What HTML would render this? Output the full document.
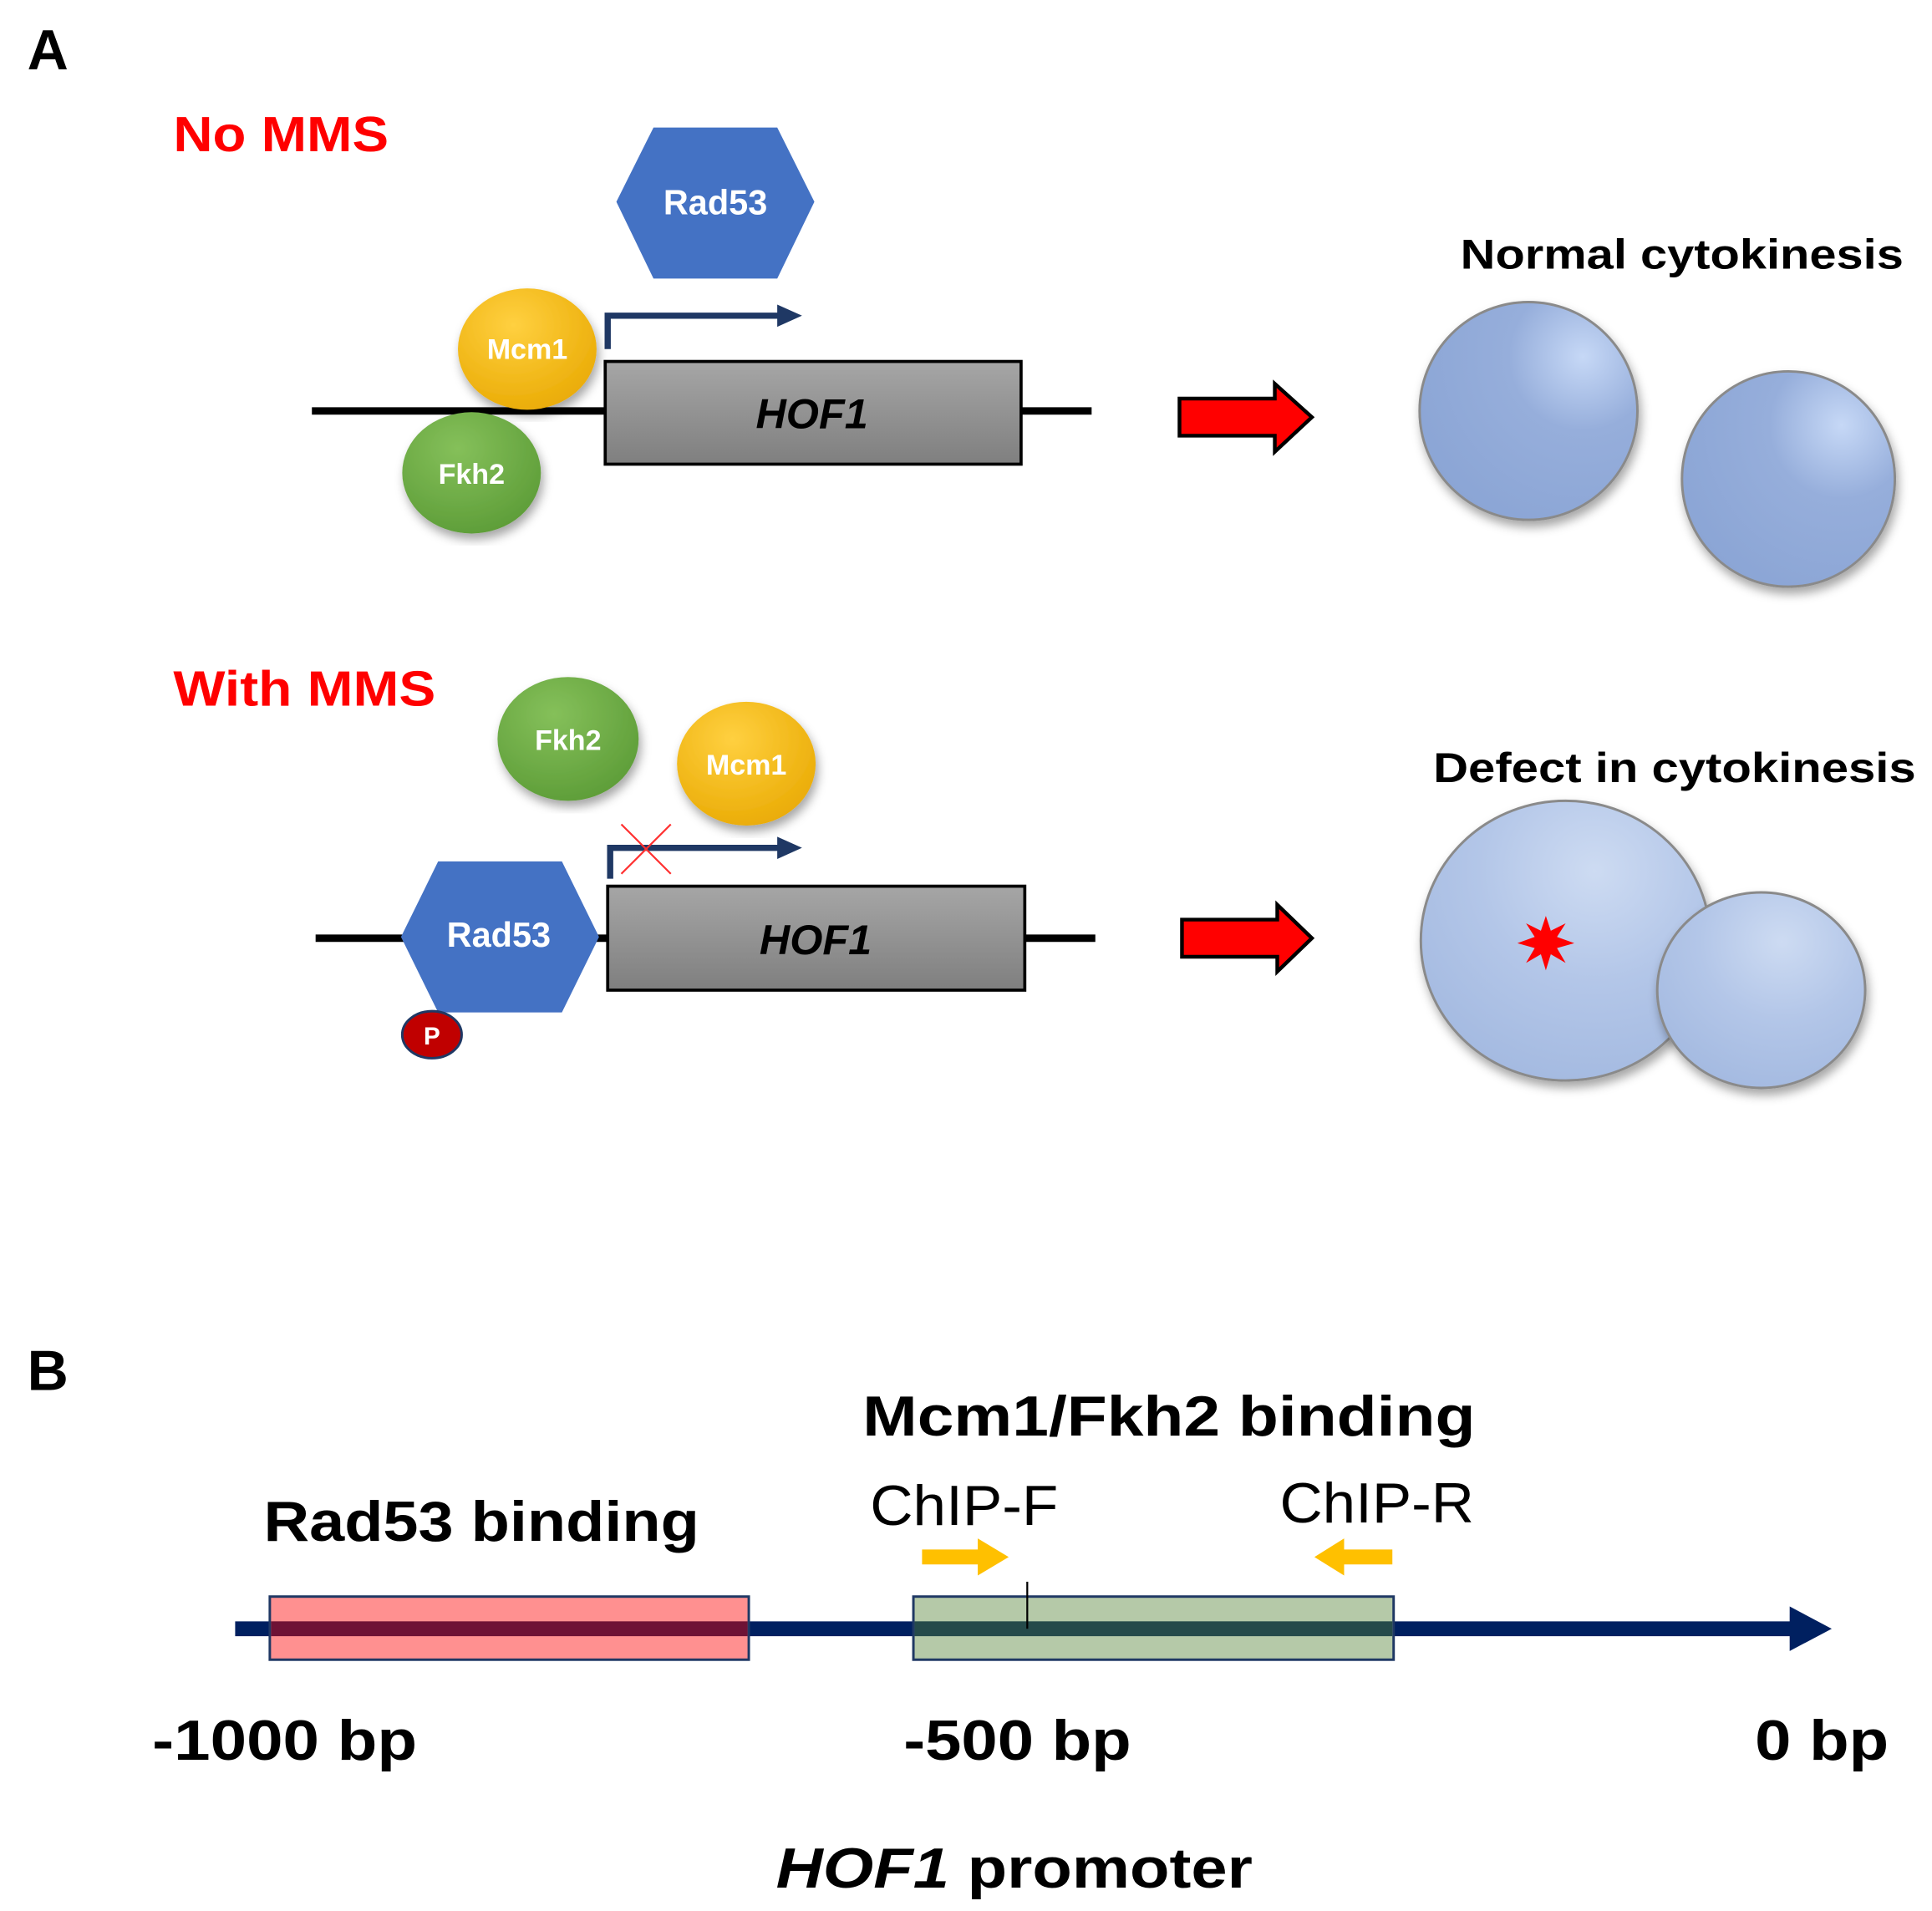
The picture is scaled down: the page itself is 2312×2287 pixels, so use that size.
<!DOCTYPE html>
<html><head><meta charset="utf-8"><style>html,body{margin:0;padding:0;background:#fff}svg{display:block}</style></head><body>
<svg width="2312" height="2287" viewBox="0 0 1561 1544" xmlns="http://www.w3.org/2000/svg" font-family="Liberation Sans, sans-serif">
<defs>
<linearGradient id="gray" x1="0" y1="0" x2="0" y2="1"><stop offset="0" stop-color="#a6a6a6"/><stop offset="1" stop-color="#7f7f7f"/></linearGradient>
<radialGradient id="yel" cx="0.4" cy="0.3" r="0.8"><stop offset="0" stop-color="#ffd040"/><stop offset="1" stop-color="#e8a800"/></radialGradient>
<radialGradient id="grn" cx="0.4" cy="0.3" r="0.8"><stop offset="0" stop-color="#85c05a"/><stop offset="1" stop-color="#5a9a35"/></radialGradient>
<radialGradient id="cell" cx="0.75" cy="0.25" r="0.85"><stop offset="0" stop-color="#c6d8f6"/><stop offset="0.4" stop-color="#96aedb"/><stop offset="1" stop-color="#8ba5d5"/></radialGradient>
<radialGradient id="cell2" cx="0.6" cy="0.25" r="0.8"><stop offset="0" stop-color="#cddbf2"/><stop offset="0.5" stop-color="#b3c6e8"/><stop offset="1" stop-color="#a3b9e0"/></radialGradient>
<filter id="sh"><feDropShadow dx="2" dy="5" stdDeviation="4" flood-color="#000" flood-opacity="0.35"/></filter>
</defs>
<text x="22" y="56" font-size="46" font-weight="bold">A</text>
<text x="140" y="122" font-size="40" font-weight="bold" fill="#ff0000" textLength="174" lengthAdjust="spacingAndGlyphs">No MMS</text>
<line x1="252" y1="332" x2="882" y2="332" stroke="#000" stroke-width="6"/>
<rect x="489" y="292" width="336" height="83" fill="url(#gray)" stroke="#000" stroke-width="2.5"/>
<text x="656" y="346" font-size="34" font-weight="bold" font-style="italic" text-anchor="middle">HOF1</text>
<polygon points="498,163 528,103 628,103 658,163 628,225 528,225" fill="#4472c4"/>
<text x="578" y="173" font-size="28" font-weight="bold" fill="#fff" text-anchor="middle">Rad53</text>
<polyline points="491,282 491,255 632,255" fill="none" stroke="#1f3864" stroke-width="5"/>
<polygon points="628,246 648,255 628,264" fill="#1f3864"/>
<ellipse cx="426" cy="282" rx="56" ry="49" fill="url(#yel)" filter="url(#sh)"/>
<text x="426" y="290" font-size="23" font-weight="bold" fill="#fff" text-anchor="middle">Mcm1</text>
<ellipse cx="381" cy="382" rx="56" ry="49" fill="url(#grn)" filter="url(#sh)"/>
<text x="381" y="391" font-size="23" font-weight="bold" fill="#fff" text-anchor="middle">Fkh2</text>
<polygon points="953,322 1030,322 1030,310 1060,337 1030,365 1030,352 953,352" fill="#ff0000" stroke="#000" stroke-width="3"/>
<text x="1180" y="217" font-size="34" font-weight="bold" textLength="358" lengthAdjust="spacingAndGlyphs">Normal cytokinesis</text>
<ellipse cx="1235" cy="332" rx="88" ry="88" fill="url(#cell)" stroke="#8a8a8a" stroke-width="2" filter="url(#sh)"/>
<ellipse cx="1445" cy="387" rx="86" ry="87" fill="url(#cell)" stroke="#8a8a8a" stroke-width="2" filter="url(#sh)"/>
<text x="140" y="570" font-size="40" font-weight="bold" fill="#ff0000" textLength="212" lengthAdjust="spacingAndGlyphs">With MMS</text>
<ellipse cx="459" cy="597" rx="57" ry="50" fill="url(#grn)" filter="url(#sh)"/>
<text x="459" y="606" font-size="23" font-weight="bold" fill="#fff" text-anchor="middle">Fkh2</text>
<ellipse cx="603" cy="617" rx="56" ry="50" fill="url(#yel)" filter="url(#sh)"/>
<text x="603" y="626" font-size="23" font-weight="bold" fill="#fff" text-anchor="middle">Mcm1</text>
<line x1="255" y1="758" x2="885" y2="758" stroke="#000" stroke-width="6"/>
<rect x="491" y="716" width="337" height="84" fill="url(#gray)" stroke="#000" stroke-width="2.5"/>
<text x="659" y="771" font-size="34" font-weight="bold" font-style="italic" text-anchor="middle">HOF1</text>
<polyline points="493,710 493,685 632,685" fill="none" stroke="#1f3864" stroke-width="5"/>
<polygon points="628,676 648,685 628,694" fill="#1f3864"/>
<line x1="502" y1="666" x2="542" y2="706" stroke="#ff3030" stroke-width="1.5"/>
<line x1="542" y1="666" x2="502" y2="706" stroke="#ff3030" stroke-width="1.5"/>
<polygon points="324,757 354,696 454,696 484,757 454,818 354,818" fill="#4472c4"/>
<text x="403" y="765" font-size="28" font-weight="bold" fill="#fff" text-anchor="middle">Rad53</text>
<ellipse cx="349" cy="836" rx="24" ry="19" fill="#c00000" stroke="#1f3864" stroke-width="2"/>
<text x="349" y="844" font-size="20" font-weight="bold" fill="#fff" text-anchor="middle">P</text>
<polygon points="955,743 1032,743 1032,731 1060,758 1032,785 1032,773 955,773" fill="#ff0000" stroke="#000" stroke-width="3"/>
<text x="1158" y="632" font-size="34" font-weight="bold" textLength="390" lengthAdjust="spacingAndGlyphs">Defect in cytokinesis</text>
<ellipse cx="1265" cy="760" rx="117" ry="113" fill="url(#cell2)" stroke="#8a8a8a" stroke-width="2" filter="url(#sh)"/>
<ellipse cx="1423" cy="800" rx="84" ry="79" fill="url(#cell2)" stroke="#8a8a8a" stroke-width="2" filter="url(#sh)"/>
<polygon points="1249,740 1253,752 1265,746 1258,757 1272,762 1258,766 1265,778 1253,771 1249,784 1245,771 1233,778 1240,766 1226,762 1240,757 1233,746 1245,752" fill="#ff0000"/>
<text x="22" y="1123" font-size="46" font-weight="bold">B</text>
<text x="697" y="1160" font-size="46" font-weight="bold" textLength="495" lengthAdjust="spacingAndGlyphs">Mcm1/Fkh2 binding</text>
<text x="703" y="1232" font-size="46" textLength="152" lengthAdjust="spacingAndGlyphs">ChIP-F</text>
<text x="1034" y="1230" font-size="46" textLength="157" lengthAdjust="spacingAndGlyphs">ChIP-R</text>
<text x="213" y="1245" font-size="46" font-weight="bold" textLength="352" lengthAdjust="spacingAndGlyphs">Rad53 binding</text>
<polygon points="745,1252 790,1252 790,1243 815,1258 790,1273 790,1264 745,1264" fill="#ffc000"/>
<polygon points="1125,1252 1086,1252 1086,1243 1062,1258 1086,1273 1086,1264 1125,1264" fill="#ffc000"/>
<line x1="190" y1="1316" x2="1452" y2="1316" stroke="#002060" stroke-width="12"/>
<polygon points="1446,1298 1480,1316 1446,1334" fill="#002060"/>
<rect x="218" y="1290" width="387" height="51" fill="#ff9090" stroke="#1f3864" stroke-width="2"/>
<rect x="219" y="1310" width="385" height="12" fill="#6e1235"/>
<rect x="738" y="1290" width="388" height="51" fill="#b5c9a8" stroke="#1f3864" stroke-width="2"/>
<rect x="739" y="1310" width="386" height="12" fill="#254a4a"/>
<line x1="830" y1="1278" x2="830" y2="1316" stroke="#000" stroke-width="1.5"/>
<text x="123" y="1422" font-size="46" font-weight="bold" textLength="214" lengthAdjust="spacingAndGlyphs">-1000 bp</text>
<text x="730" y="1422" font-size="46" font-weight="bold" textLength="184" lengthAdjust="spacingAndGlyphs">-500 bp</text>
<text x="1418" y="1422" font-size="46" font-weight="bold" textLength="108" lengthAdjust="spacingAndGlyphs">0 bp</text>
<text x="627" y="1525" font-size="46" font-weight="bold" textLength="385" lengthAdjust="spacingAndGlyphs"><tspan font-style="italic">HOF1</tspan> promoter</text>
</svg>
</body></html>
